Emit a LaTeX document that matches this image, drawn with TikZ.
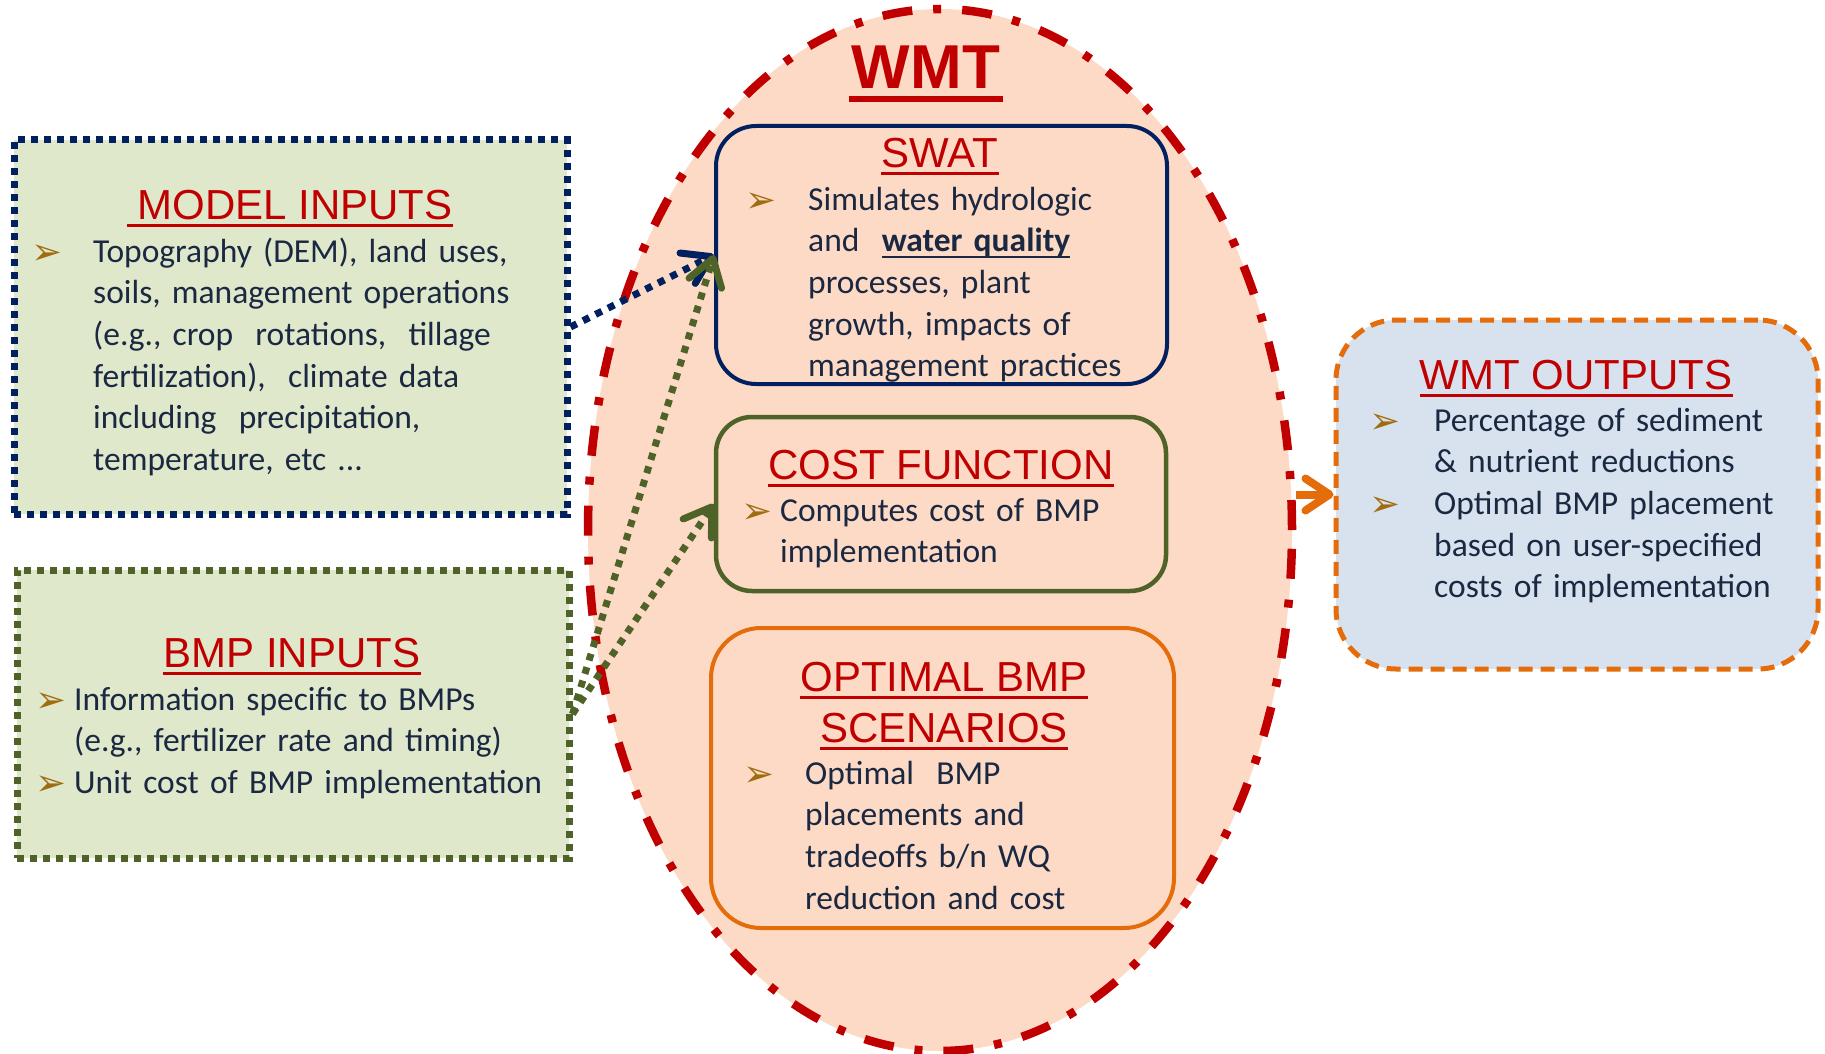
\documentclass[tikz,border=0pt]{standalone}
\usepackage{fontspec}
\setmainfont{Carlito}
\newfontfamily\arialf{Liberation Sans}
\newfontfamily\dejavu{DejaVu Sans}
\usetikzlibrary{shapes.geometric,arrows.meta,calc}
\newcommand\myul[1]{\setbox0=\hbox{#1}\rlap{\rule[-6pt]{\wd0}{2pt}}\box0}
\definecolor{wred}{HTML}{C00000}
\definecolor{wnavy}{HTML}{002060}
\definecolor{wolive}{HTML}{4F6228}
\definecolor{worange}{HTML}{E46C0A}
\definecolor{wpeach}{HTML}{FCDAC5}
\definecolor{wgreen}{HTML}{E0E8CC}
\definecolor{wblue}{HTML}{D8E2EF}
\definecolor{wtext}{HTML}{1B2841}
\definecolor{wgold}{HTML}{A06C10}
\tikzset{
  body/.style={anchor=base west, inner sep=0pt, align=left, text width=#1,
    font=\fontsize{33.5}{41.7}\selectfont, text=wtext},
  body/.default=520pt,
  ttl/.style={anchor=base, inner sep=0pt, font=\arialf\fontsize{42}{50}\selectfont, text=wred},
  uline/.style={draw=wred, line width=3pt},
  bul/.style={anchor=base, inner sep=0pt, font=\dejavu\fontsize{37}{40}\selectfont, text=wgold},
  dotbox/.style={rectangle, line width=7pt, dash pattern=on 7pt off 6pt, fill=wgreen, inner sep=0pt},
  roundbox/.style={rectangle, line width=4pt, inner sep=0pt},
  dotarrow/.style={line width=7pt, dash pattern=on 7pt off 7pt,
    -{Straight Barb[length=26pt,width=34pt,line width=7pt,round]}},
}
\begin{document}
\begin{tikzpicture}[x=1pt,y=-1pt]
\useasboundingbox (0,0) rectangle (1825,1054);

% ---- central ellipse ----
\node[ellipse, draw=wred, fill=wpeach, line width=8.5pt,
  dash pattern=on 30pt off 21pt on 8pt off 21pt,
  minimum width=704pt, minimum height=1042pt, inner sep=0pt] (wmt) at (940,530) {};
\node[anchor=base, inner sep=0pt, text=wred, font=\arialf\bfseries\fontsize{62}{70}\selectfont] (wmtt) at (926,89) {WMT};
\draw[draw=wred, line width=5.5pt] ([yshift=-10pt,xshift=-3pt]wmtt.base west) -- ([yshift=-10pt,xshift=3pt]wmtt.base east);

% ---- left boxes ----
\node[dotbox, draw=wnavy, minimum width=553pt, minimum height=374pt] (mi) at (290.5,327) {};
\node[ttl] (mit) at (295,219) {MODEL INPUTS};
\draw[uline] ([yshift=-6pt,xshift=-10pt]mit.base west) -- ([yshift=-6pt]mit.base east);
\node[bul] (mib) at (47,264) {➢};
\node[body=470pt] (mix) at (93,262) {Topography (DEM), land uses,\\
soils, management operations\\
(e.g., crop~ rotations,~ tillage\\
fertilization),~ climate data\\
including~ precipitation,\\
temperature, etc ...};

\node[dotbox, draw=wolive, minimum width=552pt, minimum height=288pt] (bmp) at (293,714) {};
\node[ttl] (bmpt) at (292,667) {BMP INPUTS};
\draw[uline] ([yshift=-6pt]bmpt.base west) -- ([yshift=-6pt]bmpt.base east);
\node[bul] (bmpb1) at (51,712) {➢};
\node[bul] (bmpb2) at (51,795.4) {➢};
\node[body=490pt] (bmpx) at (74,710) {Information specific to BMPs\\
(e.g., fertilizer rate and timing)\\
Unit cost of BMP implementation};

% ---- inner boxes ----
\node[roundbox, draw=wnavy, rounded corners=40pt, minimum width=451pt, minimum height=258pt] (swat) at (941.5,255) {};
\node[ttl] (swatt) at (940,167) {SWAT};
\draw[uline] ([yshift=-6pt]swatt.base west) -- ([yshift=-6pt]swatt.base east);
\node[bul] (swatb) at (761,212) {➢};
\node[body=360pt] (swatx) at (808,210) {Simulates hydrologic\\
and~ \myul{\bfseries water quality}\\
processes, plant\\
growth, impacts of\\
management practices};

\node[roundbox, draw=wolive, line width=4.5pt, rounded corners=36pt, minimum width=450pt, minimum height=174pt] (cost) at (941,504) {};
\node[ttl] (costt) at (941,479) {COST FUNCTION};
\draw[uline] ([yshift=-6pt]costt.base west) -- ([yshift=-6pt]costt.base east);
\node[bul] (costb) at (757,523) {➢};
\node[body=370pt] (costx) at (780,521) {Computes cost of BMP\\
implementation};

\node[roundbox, draw=worange, rounded corners=50pt, minimum width=463pt, minimum height=300pt] (opt) at (942.5,778) {};
\node[ttl] (optt1) at (944,691) {OPTIMAL BMP};
\draw[uline] ([yshift=-6pt]optt1.base west) -- ([yshift=-6pt]optt1.base east);
\node[ttl] (optt2) at (944,742) {SCENARIOS};
\draw[uline] ([yshift=-6pt]optt2.base west) -- ([yshift=-6pt]optt2.base east);
\node[bul] (optb) at (759,786) {➢};
\node[body=350pt] (optx) at (805,784) {Optimal~ BMP\\
placements and\\
tradeoffs b/n WQ\\
reduction and cost};

% ---- outputs ----
\node[rectangle, draw=worange, fill=wblue, line width=5pt, dash pattern=on 14pt off 8pt,
  rounded corners=60pt, minimum width=482pt, minimum height=349pt, inner sep=0pt] (out) at (1577,494.5) {};
\node[ttl] (outt) at (1576,389) {WMT OUTPUTS};
\draw[uline] ([yshift=-6pt]outt.base west) -- ([yshift=-6pt]outt.base east);
\node[bul] (outb1) at (1385,433) {➢};
\node[bul] (outb2) at (1385,516.4) {➢};
\node[body=370pt] (outx) at (1434,431) {Percentage of sediment\\
\& nutrient reductions\\
Optimal BMP placement\\
based on user-specified\\
costs of implementation};

% ---- connectors ----
\draw[dotarrow, wnavy] (mi.east) -- (swat.west);
\draw[dotarrow, wolive] (bmp.east) -- (swat.west);
\draw[dotarrow, wolive] (bmp.east) -- (cost.west);
\draw[worange, line width=8pt, -{Straight Barb[length=24pt,width=32pt,line width=8pt,round]}]
  (wmt.east |- out.west) -- (out.west);
\end{tikzpicture}
\end{document}
